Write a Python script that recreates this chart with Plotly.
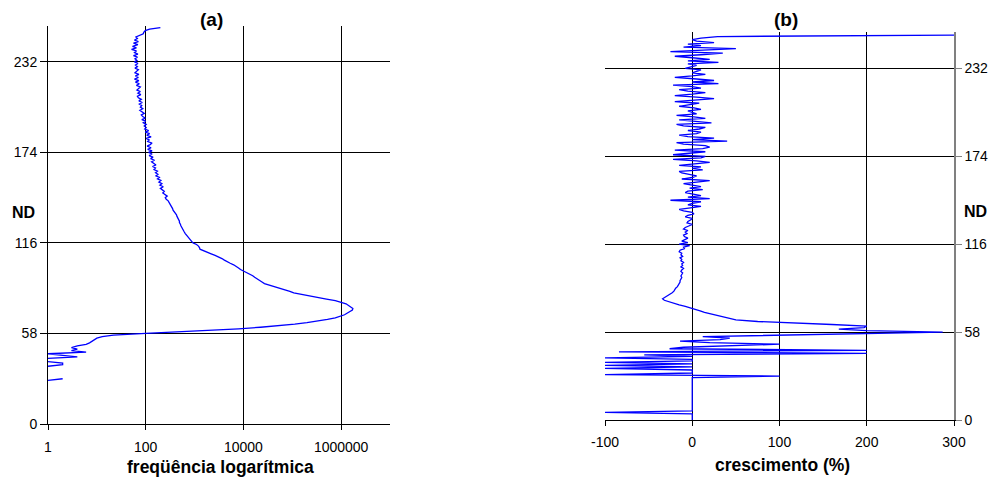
import plotly.graph_objects as go

# ---------------- data ----------------
ND = list(range(255))

# panel (a): log10 of frequency (x axis is "frequência logarítmica")
log_freq = [
    None, None, None, None, None, 0, None, None, None, None,
    None, None, None, None, None, None, None, None, None, None,
    None, None, None, None, None, None, None, None, 0, 0.3,
    None, None, None, None, None, None, None, 0, 0.3, 0.3,
    0, None, 0, 0.6, 0.3, 0, 0.78, 0.48, 0.6, 0.48,
    0.6, 0.78, 0.85, 0.9, 0.95, 1.0, 1.11, 1.34, 2.0, 2.7,
    3.3, 3.9, 4.35, 4.75, 5.05, 5.3, 5.55, 5.72, 5.88, 6.0,
    6.07, 6.12, 6.18, 6.23, 6.24, 6.2, 6.16, 6.1, 6.0, 5.88,
    5.7, 5.52, 5.35, 5.15, 5.03, 4.95, 4.85, 4.75, 4.63, 4.52,
    4.43, 4.38, 4.32, 4.27, 4.23, 4.19, 4.12, 4.05, 3.99, 3.94,
    3.9, 3.86, 3.8, 3.73, 3.66, 3.61, 3.56, 3.5, 3.42, 3.34,
    3.26, 3.17, 3.11, 3.1, 3.08, 3.04, 2.97, 2.94, 2.91, 2.88,
    2.86, 2.84, 2.81, 2.79, 2.77, 2.76, 2.74, 2.72, 2.71, 2.69,
    2.69, 2.67, 2.66, 2.64, 2.63, 2.6, 2.58, 2.56, 2.55, 2.53,
    2.52, 2.5, 2.47, 2.46, 2.42, 2.4, 2.44, 2.38, 2.35, 2.38,
    2.33, 2.3, 2.36, 2.29, 2.33, 2.27, 2.31, 2.24, 2.28, 2.21,
    2.25, 2.2, 2.24, 2.17, 2.2, 2.14, 2.21, 2.15, 2.12, 2.18,
    2.1, 2.15, 2.07, 2.13, 2.06, 2.13, 2.04, 2.11, 2.03, 2.09,
    2.13, 2.04, 2.07, 2.01, 2.11, 2.02, 2.08, 1.99, 2.06, 1.98,
    2.01, 1.97, 2.01, 1.95, 2.0, 1.92, 1.99, 1.94, 1.91, 1.97,
    1.93, 1.88, 1.94, 1.89, 1.92, 1.87, 1.93, 1.86, 1.91, 1.85,
    1.83, 1.9, 1.84, 1.89, 1.82, 1.86, 1.89, 1.81, 1.87, 1.79,
    1.86, 1.77, 1.85, 1.79, 1.86, 1.78, 1.82, 1.85, 1.78, 1.83,
    1.79, 1.84, 1.77, 1.82, 1.78, 1.83, 1.75, 1.84, 1.77, 1.81,
    1.71, 1.81, 1.73, 1.84, 1.75, 1.85, 1.77, 1.83, 1.8, 1.86,
    1.95, 1.96, 1.99, 2.08, 2.3,
]

# panel (b): growth (%)
growth = [
    0, 0, 0, 0, 0, -100, 0, 0, 0, 0,
    0, 0, 0, 0, 0, 0, 0, 0, 0, 0,
    0, 0, 0, 0, 0, 0, 0, 0, 0, 100,
    -100, 0, 0, 0, -100, 0, -100, 0, -100, 0,
    0, -100, 0, -55, 200, -84, 200, -26, -10, 40,
    100, 20, -14, 32, 43, 12, 120, 210, 287, 200,
    168, 197, 200, 160, 115, 75, 50, 42, 35, 28,
    20, 14, 9, 4, -2, -8, -15, -21, -27, -32,
    -34, -31, -28, -25, -23, -21, -20, -19, -17, -16,
    -15, -14, -14, -13, -12, -13, -12, -11, -13, -12,
    -10, -13, -11, -12, -10, -13, -12, -14, -11, -13,
    -12, -15, -14, -9, -10, -3, -15, -5, -12, -8,
    -5, -9, -10, -6, -8, -5, -10, -8, -4, 0,
    -6, -5, -2, 0, -8, -5, 2, 0, -10, -15,
    -2, 10, -5, 0, 10, -25, 20, -5, 10, 0,
    -8, -5, 12, -3, 10, 0, -10, 5, 20, -12,
    0, 5, -5, -12, -15, 12, 0, 10, -15, 5,
    20, 5, -22, 10, 15, -22, 0, 15, -20, 12,
    20, 15, -10, -18, 40, 0, 25, -5, -15, 5,
    10, -5, 8, 15, -10, -18, 22, 0, -15, 15,
    2, -18, 5, 0, -5, 10, 2, -15, 0, 8,
    -20, 10, 25, 5, -20, 0, 15, -5, -15, 10,
    0, -22, 30, 0, 25, 5, -20, 0, 15, 0,
    5, 10, -8, 0, 5, -5, 30, -5, 20, 0,
    -20, 10, 35, -25, 15, 50, -10, 10, -5, 25,
    5, 0, 10, 29, 300,
]

nd_ticks = [0, 58, 116, 174, 232]
freq_tickvals = [0, 2, 4, 6]
freq_ticktext = ["1", "100", "10000", "1000000"]
growth_ticks = [-100, 0, 100, 200, 300]
growth_ticktext = ["-100", "0", "100", "200", "300"]

# ---------------- figure ----------------
W, H = 993, 479
FONT = "Liberation Sans, Arial, sans-serif"
BLUE = "#0000FF"

fig = go.Figure()
fig.add_trace(go.Scatter(x=log_freq, y=ND, mode="lines", xaxis="x", yaxis="y",
                         line=dict(color=BLUE, width=1.3), connectgaps=False,
                         showlegend=False, hoverinfo="skip"))
fig.add_trace(go.Scatter(x=growth, y=ND, mode="lines", xaxis="x2", yaxis="y2",
                         line=dict(color=BLUE, width=1.3),
                         showlegend=False, hoverinfo="skip"))

def px_x(p):
    return p / W

def px_y(p):
    return 1 - p / H

tickfont = dict(family=FONT, size=14, color="black")
common = dict(showgrid=True, gridcolor="black", gridwidth=1, zeroline=False,
              fixedrange=True, automargin=False, tickfont=tickfont, ticks="outside")

fig.update_layout(
    width=W, height=H,
    margin=dict(l=0, r=0, t=0, b=0),
    paper_bgcolor="white", plot_bgcolor="white",
    xaxis=dict(domain=[px_x(48), px_x(390)], range=[0, 7], anchor="y",
               tickvals=freq_tickvals, ticktext=freq_ticktext,
               showline=True, linecolor="black", linewidth=1,
               ticklen=5, tickcolor="black", ticklabelstandoff=5, **common),
    yaxis=dict(domain=[px_y(424), px_y(26)], range=[0, 255], anchor="x",
               tickvals=nd_ticks,
               showline=True, linecolor="black", linewidth=1,
               ticklen=7, tickcolor="black", **common),
    xaxis2=dict(domain=[px_x(605), px_x(954)], range=[-100, 300], anchor="y2",
                tickvals=growth_ticks, ticktext=growth_ticktext,
                showline=True, linecolor="black", linewidth=1,
                ticklen=5, tickcolor="black", ticklabelstandoff=4, **common),
    yaxis2=dict(domain=[px_y(420), px_y(32)], range=[0, 256], anchor="x2",
                side="right", tickvals=nd_ticks,
                showline=True, linecolor="#808080", linewidth=1.5,
                ticklen=6, tickcolor="#808080", **common),
)

ann = [
    dict(text="<b>(a)</b>", x=px_x(211), y=px_y(19), size=19),
    dict(text="<b>(b)</b>", x=px_x(786), y=px_y(19), size=19),
    dict(text="<b>ND</b>", x=px_x(23), y=px_y(212), size=16),
    dict(text="<b>ND</b>", x=px_x(975), y=px_y(211), size=16),
    dict(text="<b>freqüência logarítmica</b>", x=px_x(220), y=px_y(467), size=17.5),
    dict(text="<b>crescimento (%)</b>", x=px_x(782), y=px_y(465), size=17.5),
]
for a in ann:
    fig.add_annotation(text=a["text"], x=a["x"], y=a["y"], xref="paper", yref="paper",
                       xanchor="center", yanchor="middle", showarrow=False,
                       font=dict(family=FONT, size=a["size"], color="black"))

fig.write_html("out.html", config={"displayModeBar": False},
               post_script="document.body.style.margin='0';document.body.style.overflow='hidden';")
